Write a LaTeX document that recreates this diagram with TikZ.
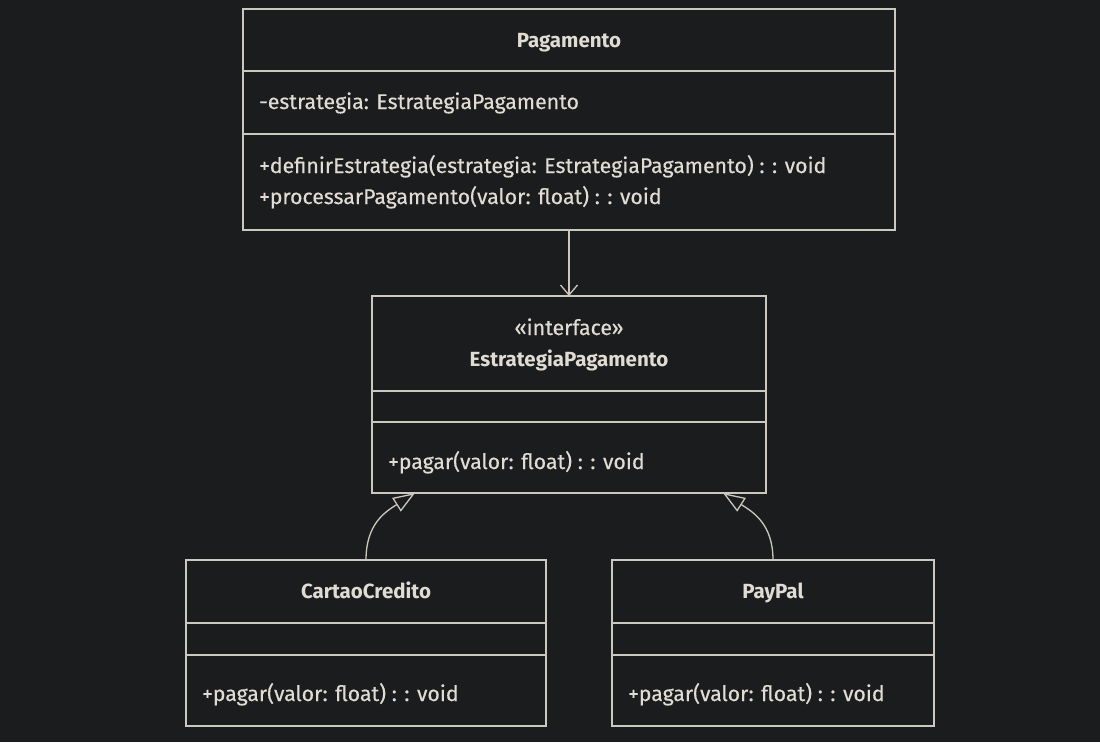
\documentclass[tikz,border=0pt]{standalone}
\usepackage{fontspec}
\setmainfont{Fira Sans}
\newfontfamily\uitxt[FakeBold=0.35]{Fira Sans}
\usetikzlibrary{arrows.meta,calc}
\definecolor{bg}{HTML}{1B1C1E}
\definecolor{ln}{HTML}{CCC8C0}
\definecolor{tx}{HTML}{E0DCD4}
\begin{document}
\begin{tikzpicture}[x=1pt,y=-1pt,
  box/.style 2 args={draw=ln,line width=1.3pt,rectangle,inner sep=0pt,outer sep=0pt,minimum width=#1pt,minimum height=#2pt},
  divider/.style={draw=ln,line width=1.3pt},
  txt/.style={text=tx,font=\uitxt\fontsize{21.3}{24}\selectfont,inner sep=0pt,anchor=base west},
  ttl/.style={text=tx,font=\fontsize{20.5}{24}\selectfont\bfseries,inner sep=0pt,anchor=base},
  assoc/.style={draw=ln,line width=1.3pt,-{Straight Barb[length=10pt,width=17pt,line width=1.3pt]}},
  ext/.style={draw=ln,line width=1.3pt,-{Triangle[open,length=22pt,width=16pt,line width=1.3pt]}}]
\fill[bg] (0,0) rectangle (1100,742);
\useasboundingbox (0,0) rectangle (1100,742);

% Pagamento
\node[box={652}{221}] (pag) at (569,119.5) {};
\draw[divider] (pag.west |- 0,71) -- (pag.east |- 0,71);
\draw[divider] (pag.west |- 0,134) -- (pag.east |- 0,134);
\node[ttl] (pagttl) at (569,47) {Pagamento};
\node[txt] (pagattr) at (259,109) {-estrategia: EstrategiaPagamento};
\node[txt] (pagm1) at (259,173) {+definirEstrategia(estrategia: EstrategiaPagamento) : : void};
\node[txt] (pagm2) at (259,204) {+processarPagamento(valor: float) : : void};

% EstrategiaPagamento
\node[box={394}{197}] (ep) at (569,394.5) {};
\draw[divider] (ep.west |- 0,391) -- (ep.east |- 0,391);
\draw[divider] (ep.west |- 0,422) -- (ep.east |- 0,422);
\node[txt,anchor=base] (epst) at (569,335) {«interface»};
\node[ttl] (epttl) at (569,366) {EstrategiaPagamento};
\node[txt] (epm) at (388,469) {+pagar(valor: float) : : void};

% CartaoCredito
\node[box={360}{166}] (cc) at (366,643) {};
\draw[divider] (cc.west |- 0,623) -- (cc.east |- 0,623);
\draw[divider] (cc.west |- 0,655) -- (cc.east |- 0,655);
\node[ttl] (ccttl) at (366,598) {CartaoCredito};
\node[txt] (ccm) at (202,701) {+pagar(valor: float) : : void};

% PayPal
\node[box={322}{166}] (pp) at (773,643) {};
\draw[divider] (pp.west |- 0,623) -- (pp.east |- 0,623);
\draw[divider] (pp.west |- 0,655) -- (pp.east |- 0,655);
\node[ttl] (ppttl) at (773,598) {PayPal};
\node[txt] (ppm) at (628,701) {+pagar(valor: float) : : void};

% connectors
\draw[assoc] (pag.south) -- (ep.north);
\draw[ext] (cc.north) .. controls +(0,-36) and +(-30,19) .. ([xshift=43pt]ep.south west);
\draw[ext] (pp.north) .. controls +(0,-36) and +(30,19) .. ([xshift=-43pt]ep.south east);
\end{tikzpicture}
\end{document}
